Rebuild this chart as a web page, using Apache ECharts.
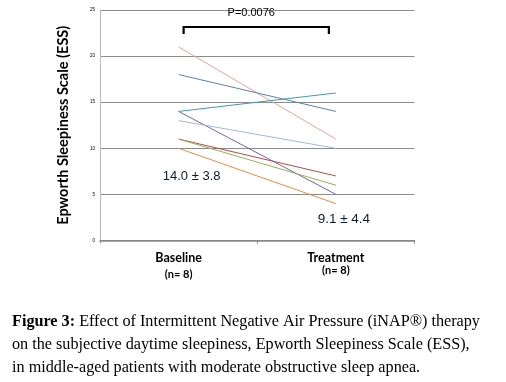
<!DOCTYPE html>
<html>
<head>
<meta charset="utf-8">
<script src="https://cdn.jsdelivr.net/npm/echarts@6/dist/echarts.min.js"></script>
<style>
  html, body { margin: 0; padding: 0; background: #fff; }
  #chart { width: 506px; height: 382px; }
</style>
</head>
<body>
<div id="chart"></div>
<script>
// 类别和每位患者的ESS值
var categories = ['Baseline', 'Treatment'];
var sampleSizes = ['(n= 8)', '(n= 8)'];
var yTicks = [0, 5, 10, 15, 20, 25];

var patientA = [21, 11];   // 粉红
var patientB = [18, 14];   // 蓝
var patientC = [14, 16];   // 青
var patientD = [14, 5];    // 紫
var patientE = [13, 10];   // 浅蓝
var patientF = [11, 7];    // 暗红
var patientG = [11, 6];    // 绿
var patientH = [10, 4];    // 橙

var meanLabels = ['14.0 \u00B1 3.8', '9.1 \u00B1 4.4'];
var pValue = 'P=0.0076';

var patients = [
    { data: patientA, color: '#e8a398' },
    { data: patientB, color: '#5b7fb5' },
    { data: patientC, color: '#3f9bb0' },
    { data: patientD, color: '#7a62a8' },
    { data: patientE, color: '#9fb8da' },
    { data: patientF, color: '#b84a4a' },
    { data: patientG, color: '#92b158' },
    { data: patientH, color: '#ef8a3c' }
];

var chart = echarts.init(document.getElementById('chart'), null, { renderer: 'canvas' });

var series = patients.map(function (p, i) {
    return {
        name: 'P' + (i + 1),
        type: 'line',
        data: p.data,
        symbol: 'none',
        lineStyle: { color: p.color, width: 1 },
        silent: true,
        z: 3
    };
});

var option = {
    animation: false,
    grid: { left: 100, right: 91.5, top: 10, height: 230.5, containLabel: false },
    xAxis: {
        type: 'category',
        data: categories,
        boundaryGap: true,
        axisLine: { lineStyle: { color: '#888', width: 1.5 } },
        axisTick: { show: true, length: 3, lineStyle: { color: '#888' } },
        axisLabel: {
            margin: 10,
            formatter: function (v, idx) {
                return '{b|' + v + '}\n{n' + idx + '|' + sampleSizes[idx] + '}';
            },
            rich: {
                b: { fontFamily: 'Lato', fontWeight: 'bold', fontSize: 12.5, color: '#000', lineHeight: 14 },
                n0: { fontFamily: 'Lato', fontWeight: 'bold', fontSize: 11, color: '#000', lineHeight: 20 },
                n1: { fontFamily: 'Lato', fontWeight: 'bold', fontSize: 11, color: '#000', lineHeight: 11 }
            }
        }
    },
    yAxis: {
        type: 'value',
        min: 0,
        max: 25,
        interval: 5,
        name: 'Epworth Sleepiness Scale (ESS)',
        nameLocation: 'middle',
        nameGap: 29,
        nameTextStyle: { fontFamily: 'Lato', fontWeight: 'bold', fontSize: 14.5, color: '#000' },
        axisLine: { show: true, lineStyle: { color: '#bbb', width: 1 } },
        axisTick: { show: false },
        axisLabel: { fontSize: 4.5, color: '#000', margin: 5 },
        splitLine: { lineStyle: { color: '#8c8c8c', width: 1.2 } }
    },
    series: series
};

chart.setOption(option);

// 注释：括号、P值、均值标注，位置由坐标换算
var pA = chart.convertToPixel({ seriesIndex: 0 }, [0, 25]);
var pB = chart.convertToPixel({ seriesIndex: 0 }, [1, 25]);
var bracketTop = 27, bracketBot = 34;
var xl = pA[0] + 5, xr = pB[0] - 7;
var m0 = chart.convertToPixel({ seriesIndex: 0 }, [0, 7]);
var m1 = chart.convertToPixel({ seriesIndex: 0 }, [1, 2.4]);

chart.setOption({
    graphic: [
        {
            type: 'polyline',
            shape: { points: [[xl, bracketBot], [xl, bracketTop], [xr, bracketTop], [xr, bracketBot]] },
            style: { stroke: '#000', lineWidth: 2.2, fill: null }
        },
        {
            type: 'text',
            x: (xl + xr) / 2 - 5,
            y: 13,
            style: { text: pValue, font: '11px "Liberation Sans"', fill: '#000', textAlign: 'center', textVerticalAlign: 'middle' }
        },
        {
            type: 'text',
            x: m0[0] + 13,
            y: m0[1],
            style: { text: meanLabels[0], font: '13px "Liberation Sans"', fill: '#0d1a33', textAlign: 'center', textVerticalAlign: 'middle' }
        },
        {
            type: 'text',
            x: m1[0] + 8,
            y: m1[1] + 1,
            style: { text: meanLabels[1], font: '13.5px "Liberation Sans"', fill: '#0d1a33', textAlign: 'center', textVerticalAlign: 'middle' }
        },
        {
            type: 'text',
            left: 12,
            top: 310,
            style: {
                text: '{b|Figure 3:} Effect of Intermittent Negative Air Pressure (iNAP\u00AE) therapy\non the subjective daytime sleepiness, Epworth Sleepiness Scale (ESS),\nin middle-aged patients with moderate obstructive sleep apnea.',
                font: '16.2px "Liberation Serif"',
                fill: '#000',
                lineHeight: 23,
                rich: {
                    b: { fontFamily: 'Liberation Serif', fontWeight: 'bold', fontSize: 16.2, lineHeight: 23 }
                }
            }
        }
    ]
});
</script>
</body>
</html>
